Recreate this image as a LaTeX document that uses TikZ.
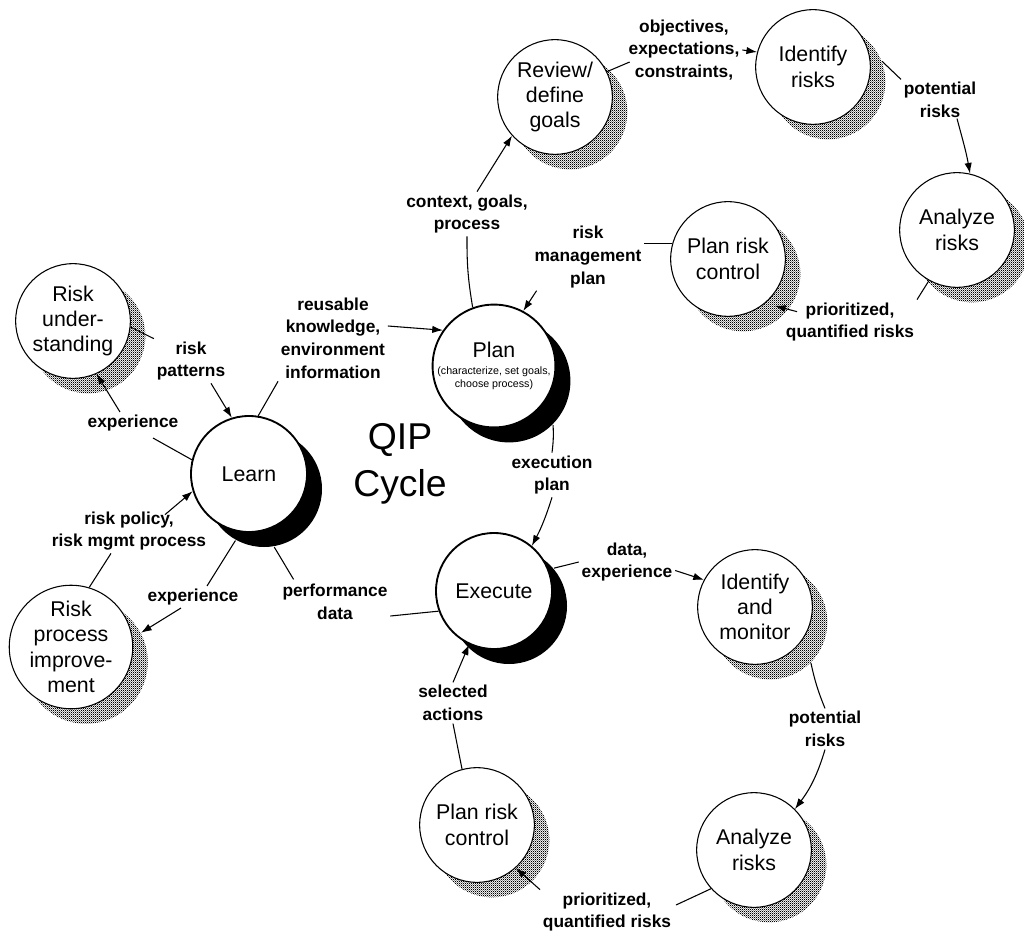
\documentclass[tikz,border=0pt]{standalone}
\usepackage{fontspec}
\setmainfont{Liberation Sans}
\usetikzlibrary{shadows,patterns,arrows.meta,calc}
\pgfdeclarepatternformonly{checker}{\pgfqpoint{0pt}{0pt}}{\pgfqpoint{1.6pt}{1.6pt}}{\pgfqpoint{1.6pt}{1.6pt}}{%
  \pgfpathrectangle{\pgfqpoint{0pt}{0pt}}{\pgfqpoint{0.8pt}{0.8pt}}%
  \pgfpathrectangle{\pgfqpoint{0.8pt}{0.8pt}}{\pgfqpoint{0.8pt}{0.8pt}}%
  \pgfusepath{fill}}
\begin{document}
\begin{tikzpicture}[x=0.75pt,y=-0.75pt,
  qip/.style={circle, draw, line width=1.4pt, fill=white, minimum size=87pt, inner sep=0pt, align=center,
    font=\fontsize{16}{19}\selectfont,
    drop shadow={shadow xshift=11.25pt, shadow yshift=-11.25pt, fill=black, opacity=1}},
  risk/.style={circle, draw, line width=0.8pt, fill=white, minimum size=86pt, inner sep=0pt, align=center,
    font=\fontsize{16}{19}\selectfont,
    drop shadow={shadow xshift=11.25pt, shadow yshift=-11.25pt, pattern=checker, opacity=1}},
  lbl/.style={align=center, font=\fontsize{13}{17}\selectfont\bfseries, inner sep=2pt},
  conn/.style={line width=0.8pt},
  arr/.style={-{Latex[length=8pt,width=5.5pt]}}
]
\useasboundingbox (0,0) rectangle (1024,934);
\fill[white] (0,0) rectangle (1024,934);

% QIP nodes
\node[qip] (plan) at (494,366) {Plan\\[-6pt]{\fontsize{8}{10}\selectfont(characterize, set goals,}\\[-9pt]{\fontsize{8}{10}\selectfont choose process)}};
\node[qip] (learn) at (249,474) {Learn};
\node[qip] (execute) at (494,591) {Execute};
\node[font=\fontsize{28}{35}\selectfont, align=center] (qiplabel) at (400,464) {QIP\\Cycle};

% risk nodes
\node[risk] (review) at (555,97) {Review/\\define\\goals};
\node[risk] (idrisk) at (813,67) {Identify\\risks};
\node[risk] (anatop) at (957,230) {Analyze\\risks};
\node[risk] (prctop) at (728,259) {Plan risk\\control};
\node[risk] (riskund) at (73,321) {Risk\\under-\\standing};
\node[risk] (riskproc) at (71,647) {Risk\\process\\improve-\\ment};
\node[risk] (idmon) at (755,607) {Identify\\and\\monitor};
\node[risk] (anabot) at (754,850) {Analyze\\risks};
\node[risk] (prcbot) at (477,825) {Plan risk\\control};

% labels
\node[lbl] (lctx) at (467,214) {context, goals,\\process};
\node[lbl] (lobj) at (684,50) {objectives,\\expectations,\\constraints,};
\node[lbl] (lpot1) at (940,100) {potential\\risks};
\node[lbl] (lprio1) at (850,322) {prioritized,\\quantified risks};
\node[lbl] (lrmp) at (588,257) {risk\\management\\plan};
\node[lbl] (lreuse) at (333,338) {reusable\\knowledge,\\environment\\information};
\node[lbl] (lpat) at (191,361) {risk\\patterns};
\node[lbl] (lexp1) at (133,423) {experience};
\node[lbl] (lpol) at (129,531) {risk policy,\\risk mgmt process};
\node[lbl] (lexp2) at (193,597) {experience};
\node[lbl] (lperf) at (335,602) {performance\\data};
\node[lbl] (lexec) at (552,475) {execution\\plan};
\node[lbl] (ldata) at (627,562) {data,\\experience};
\node[lbl] (lpot2) at (825,729) {potential\\risks};
\node[lbl] (lprio2) at (607,912) {prioritized,\\quantified risks};
\node[lbl] (lsel) at (453,703) {selected\\actions};

% connectors: upper risk cycle
\draw[conn] (plan.110) to[bend left=5] (lctx.south);
\draw[conn,arr] ($(lctx.north)+(10,0)$) -- (review.222);
\draw[conn] (review.26) -- ($(lobj.west)+(4,12)$);
\draw[conn,arr] (lobj.east) -- (idrisk.165);
\draw[conn] ($(idrisk.21)+(15,15)$) -- (lpot1.north west);
\draw[conn,arr] ($(lpot1.south)+(17,-2)$) to[out=-75,in=100] (anatop.77);
\draw[conn] (anatop.241) -- (lprio1.north east);
\draw[conn,arr] ($(lprio1.north west)+(14,12)$) -- ($(prctop.-45)+(6,6)$);
\draw[conn] (prctop.164) -- (prctop.164 -| lrmp.east);
\draw[conn,arr] ($(lrmp.south west)+(5,0)$) -- (plan.62);

% QIP cycle
\draw[conn] ($(plan.-45)+(15,15)$) to[bend left=5] (lexec.north);
\draw[conn,arr] (lexec.south) to[bend left=5] (execute.50);
\draw[conn] (execute.200) -- ($(lperf.east)+(0,14)$);
\draw[conn] ($(learn.-80)+(15,15)$) -- ($(lperf.north west)+(14,-2)$);
\draw[conn] (learn.81) -- (lreuse.south west);
\draw[conn,arr] ($(lreuse.east)+(0,-12)$) -- (plan.145);

% lower risk cycle
\draw[conn] ($(execute.40)+(15,15)$) -- (ldata.west);
\draw[conn,arr] (ldata.-10) -- (idmon.152);
\draw[conn] ($(idmon.-45)+(15,15)$) to[bend right=5] (lpot2.north);
\draw[conn,arr] (lpot2.south) to[bend left=10] (anabot.45);
\draw[conn] (anabot.222) -- ($(lprio2.east)+(2,-7)$);
\draw[conn,arr] (lprio2.north west) -- (prcbot.-48);
\draw[conn] (prcbot.105) -- (lsel.south);
\draw[conn,arr] (lsel.north) -- (execute.-115);

% learning side
\draw[conn] (riskund.-6) -- (lpat.north west);
\draw[conn,arr] ($(lpat.south)+(20,0)$) -- (learn.107);
\draw[conn] (learn.166) -- ($(lexp1.south)+(20,4)$);
\draw[conn,arr] ($(lexp1.north)+(-13,0)$) -- (riskund.-66);
\draw[conn] (riskproc.73) -- ($(lpol.south)+(-18,0)$);
\draw[conn,arr] ($(lpol.north)+(36,6)$) -- (learn.197);
\draw[conn] ($(learn.-119)+(15,15)$) -- ($(lexp2.north)+(14,0)$);
\draw[conn,arr] ($(lexp2.south)+(-12,0)$) -- ($(riskproc.28)+(15,15)$);
\end{tikzpicture}
\end{document}
